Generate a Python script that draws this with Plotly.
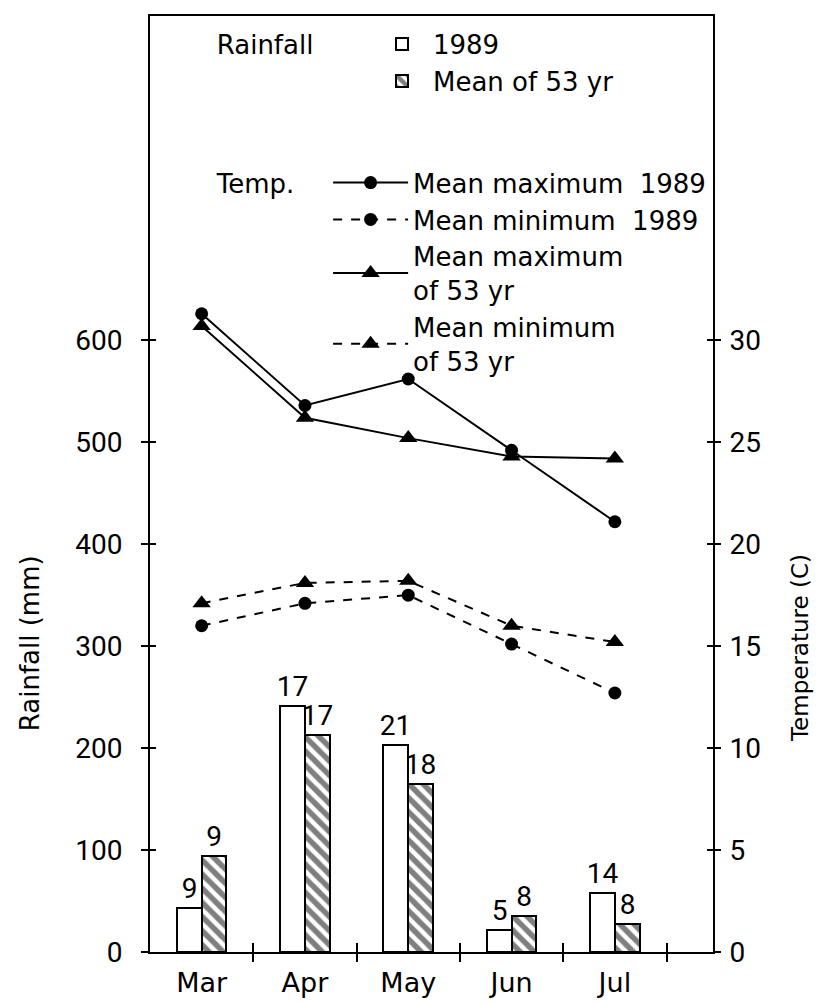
import plotly.graph_objects as go

months = ["Mar", "Apr", "May", "Jun", "Jul"]
rain_1989 = [43, 241, 203, 22, 58]
rain_mean53 = [94, 213, 165, 35, 27]
days_1989 = [9, 17, 21, 5, 14]
days_mean53 = [9, 17, 18, 8, 8]

tmax_1989 = [31.3, 26.8, 28.1, 24.6, 21.1]
tmin_1989 = [16.0, 17.1, 17.5, 15.1, 12.7]
tmax_53 = [30.7, 26.2, 25.2, 24.3, 24.2]
tmin_53 = [17.1, 18.1, 18.2, 16.0, 15.2]

rain_ticks = [0, 100, 200, 300, 400, 500, 600]
temp_ticks = [0, 5, 10, 15, 20, 25, 30]

TXT = "DejaVu Sans"
NUM = "Roboto"
idx = list(range(len(months)))
bounds = [i + 0.5 for i in idx]
RAIN_MAX = 918
TEMP_MAX = RAIN_MAX / 20.0
XR = [-0.5, 4.95]

fig = go.Figure()

fig.add_trace(go.Bar(
    x=idx, y=rain_1989, width=0.24, offset=-0.24,
    marker=dict(color="white", line=dict(color="black", width=2)),
    text=[str(d) for d in days_1989], textposition="outside",
    textfont=dict(family=NUM, size=28, color="black"),
    constraintext="none", cliponaxis=False,
    name="1989", legend="legend",
))
fig.add_trace(go.Bar(
    x=idx, y=rain_mean53, width=0.24, offset=0,
    marker=dict(color="white", line=dict(color="black", width=2),
                pattern=dict(shape="\\", fgcolor="black", bgcolor="white",
                             size=10, solidity=0.55)),
    text=[str(d) for d in days_mean53], textposition="outside",
    textfont=dict(family=NUM, size=28, color="black"),
    constraintext="none", cliponaxis=False,
    name="Mean of 53 yr", legend="legend",
))

def tline(vals, name, dash, symbol, size):
    return go.Scatter(
        x=idx, y=vals, yaxis="y2", mode="lines+markers", name=name,
        line=dict(color="black", width=2, dash=dash),
        marker=dict(symbol=symbol, size=size, color="black"),
        legend="legend2", cliponaxis=False,
    )

fig.add_trace(tline(tmax_1989, "Mean maximum  1989", "solid", "circle", 13))
fig.add_trace(tline(tmin_1989, "Mean minimum  1989", "dash", "circle", 13))
fig.add_trace(tline(tmax_53, "Mean maximum<br>of 53 yr", "solid", "triangle-up", 16))
fig.add_trace(tline(tmin_53, "Mean minimum<br>of 53 yr", "dash", "triangle-up", 16))

# dummy traces to attach tick-only overlay axes
for xa, ya in [("x2", "y"), ("x3", "y"), ("x", "y3"), ("x", "y4")]:
    fig.add_trace(go.Scatter(x=[None], y=[None], xaxis=xa, yaxis=ya,
                             showlegend=False, hoverinfo="skip"))

numfont = dict(family=NUM, size=28, color="black")
monthfont = dict(family=TXT, size=27, color="black")
legfont = dict(family=TXT, size=26, color="black")
fig.update_layout(
    width=815, height=996,
    margin=dict(l=142, r=110, t=6, b=48),
    paper_bgcolor="white", plot_bgcolor="white",
    font=dict(family=TXT, size=26, color="black"),
    bargap=0, barmode="overlay",
    xaxis=dict(range=XR, tickvals=idx, ticktext=months, ticks="",
               showline=True, linecolor="black", linewidth=2, mirror=True,
               showgrid=False, zeroline=False, tickfont=monthfont,
               ticklabelstandoff=6),
    xaxis2=dict(range=XR, overlaying="x", anchor="y", side="bottom",
                tickvals=bounds, ticks="outside", ticklen=9, tickwidth=2,
                tickcolor="black", showticklabels=False, showline=False,
                showgrid=False, zeroline=False),
    xaxis3=dict(range=XR, overlaying="x", anchor="y", side="bottom",
                tickvals=bounds, ticks="inside", ticklen=9, tickwidth=2,
                tickcolor="black", showticklabels=False, showline=False,
                showgrid=False, zeroline=False),
    yaxis=dict(range=[0, RAIN_MAX], tickvals=rain_ticks, ticks="outside",
               ticklen=7, tickwidth=2, tickcolor="black",
               showline=True, linecolor="black", linewidth=2,
               showgrid=False, zeroline=False, tickfont=numfont,
               ticklabelstandoff=13),
    yaxis2=dict(range=[0, TEMP_MAX], overlaying="y", side="right",
                tickvals=temp_ticks, ticks="outside", ticklen=6, tickwidth=2,
                tickcolor="black", showline=True, linecolor="black",
                linewidth=2, showgrid=False, zeroline=False,
                tickfont=numfont, ticklabelstandoff=3),
    yaxis3=dict(range=[0, RAIN_MAX], overlaying="y", side="left",
                tickvals=rain_ticks[1:], ticks="inside", ticklen=6,
                tickwidth=2, tickcolor="black", showticklabels=False,
                showline=False, showgrid=False, zeroline=False),
    yaxis4=dict(range=[0, TEMP_MAX], overlaying="y", side="right",
                tickvals=temp_ticks[1:], ticks="inside", ticklen=6,
                tickwidth=2, tickcolor="black", showticklabels=False,
                showline=False, showgrid=False, zeroline=False),
    legend=dict(x=0.115, y=0.995, xanchor="left", yanchor="top",
                bgcolor="rgba(0,0,0,0)", borderwidth=0,
                title=dict(text="Rainfall      ", side="left", font=legfont),
                font=legfont, traceorder="normal", itemwidth=52),
    legend2=dict(x=0.115, y=0.847, xanchor="left", yanchor="top",
                 bgcolor="rgba(0,0,0,0)", borderwidth=0,
                 title=dict(text="Temp.   ", side="left", font=legfont),
                 font=legfont, traceorder="normal", itemwidth=75),
    annotations=[
        dict(text="Rainfall (mm)", xref="paper", yref="paper",
             x=-0.213, y=0.33, textangle=-90, showarrow=False,
             xanchor="center", yanchor="middle",
             font=dict(family=TXT, size=26)),
        dict(text="Temperature (C)", xref="paper", yref="paper",
             x=1.155, y=0.325, textangle=-90, showarrow=False,
             xanchor="center", yanchor="middle",
             font=dict(family=TXT, size=23)),
    ],
)

fig.write_html("out.html")
